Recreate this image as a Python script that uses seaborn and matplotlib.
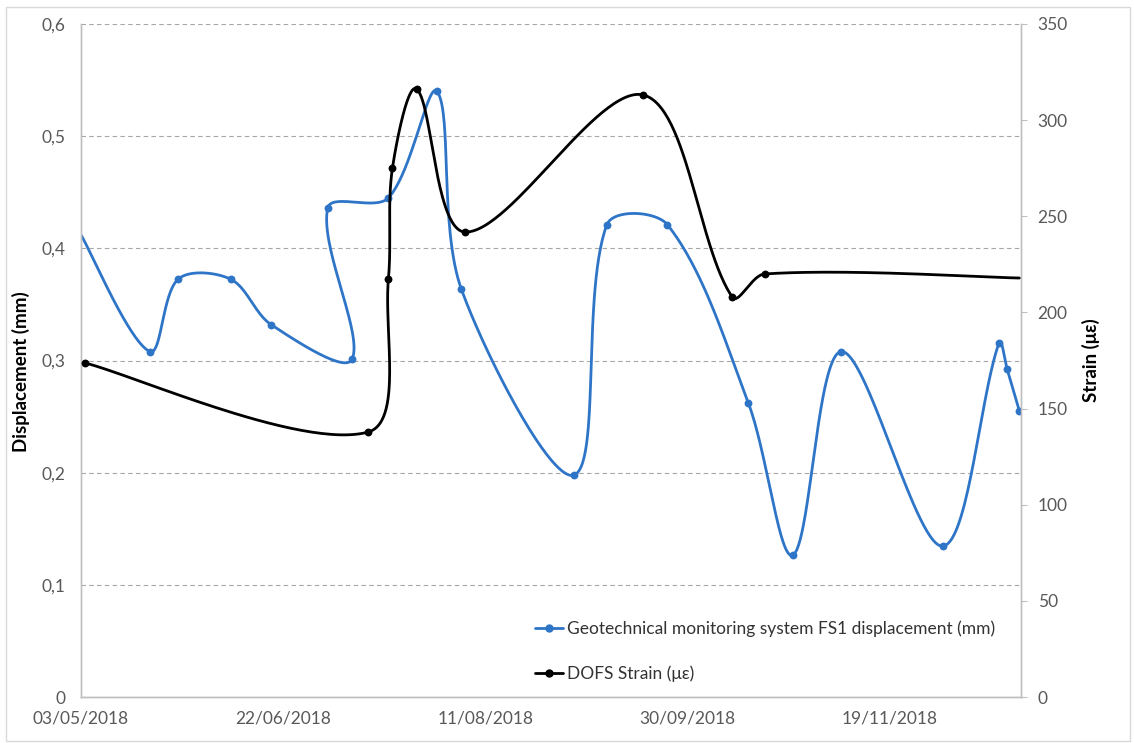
import numpy as np
import pandas as pd
import matplotlib
matplotlib.use("Agg")
import matplotlib.pyplot as plt
import matplotlib.dates as mdates
from matplotlib.lines import Line2D
from matplotlib.patches import Rectangle
import seaborn as sns

# FS1 displacement readings (mm), listed in acquisition order
disp_dates = ["2018-05-03", "2018-05-20", "2018-05-27", "2018-06-09", "2018-06-19",
              "2018-07-09", "2018-07-03", "2018-07-18", "2018-07-30", "2018-08-05",
              "2018-09-02", "2018-09-10", "2018-09-25", "2018-10-15", "2018-10-26",
              "2018-11-07", "2018-12-02", "2018-12-16", "2018-12-18", "2018-12-21"]
disp_values = [0.412, 0.308, 0.3725, 0.3725, 0.332,
               0.301, 0.436, 0.445, 0.540, 0.364,
               0.198, 0.421, 0.421, 0.262, 0.1265,
               0.308, 0.1345, 0.316, 0.292, 0.255]

# DOFS strain readings (microstrain)
strain_dates = ["2018-05-04", "2018-07-13", "2018-07-18", "2018-07-19", "2018-07-25",
                "2018-08-06", "2018-09-19", "2018-10-11", "2018-10-19", "2018-12-21"]
strain_values = [173.7, 137.8, 217.4, 275.1, 316.2,
                 241.8, 313.1, 208.0, 220.0, 217.9]

x_start, x_end = "2018-05-03", "2018-12-21"
date_ticks = ["2018-05-03", "2018-06-22", "2018-08-11", "2018-09-30", "2018-11-19"]
disp_ticks = [0, 0.1, 0.2, 0.3, 0.4, 0.5, 0.6]
disp_tick_labels = ["0", "0,1", "0,2", "0,3", "0,4", "0,5", "0,6"]
strain_ticks = [0, 50, 100, 150, 200, 250, 300, 350]

disp_label = "Geotechnical monitoring system FS1 displacement (mm)"
strain_label = "DOFS Strain (\u03bc\u03b5)"

BLUE = "#2E75C8"
BLACK = "#000000"
GRID = "#A6A6A6"
SPINE = "#BFBFBF"
TICK = "#595959"

AX_W_PX, AX_H_PX = 940.0, 673.0


def smooth_curve(x, y, xspan, yspan, steps=60):
    """Piecewise cubic Bezier through the points; tangents are scaled by the
    on-screen chord lengths of the neighbouring segments to avoid loops."""
    px = np.asarray(x, float)
    py = np.asarray(y, float)
    sx, sy = AX_W_PX / xspan, AX_H_PX / yspan
    n = len(px)
    d = np.hypot(np.diff(px) * sx, np.diff(py) * sy)
    out_x, out_y = [px[0]], [py[0]]
    t = np.linspace(0, 1, steps)[1:]
    for i in range(n - 1):
        i0, i3 = max(i - 1, 0), min(i + 2, n - 1)
        d_prev = d[i - 1] if i > 0 else d[i]
        d_next = d[i + 1] if i + 1 < n - 1 else d[i]
        k1 = (2.0 / 6.0) * d[i] / (d_prev + d[i])
        k2 = (2.0 / 6.0) * d[i] / (d[i] + d_next)
        c1x = px[i] + (px[i + 1] - px[i0]) * k1
        c1y = py[i] + (py[i + 1] - py[i0]) * k1
        c2x = px[i + 1] - (px[i3] - px[i]) * k2
        c2y = py[i + 1] - (py[i3] - py[i]) * k2
        a, b, c, e = (1 - t) ** 3, 3 * (1 - t) ** 2 * t, 3 * (1 - t) * t ** 2, t ** 3
        out_x.extend(a * px[i] + b * c1x + c * c2x + e * px[i + 1])
        out_y.extend(a * py[i] + b * c1y + c * c2y + e * py[i + 1])
    return np.array(out_x), np.array(out_y)


sns.set_theme(style="white")
plt.rcParams["font.family"] = ["Lato", "DejaVu Sans"]

disp_x = mdates.date2num(pd.to_datetime(disp_dates))
strain_x = mdates.date2num(pd.to_datetime(strain_dates))

xmin = mdates.date2num(pd.Timestamp(x_start))
xmax = mdates.date2num(pd.Timestamp(x_end)) + 0.4
disp_lim = (disp_ticks[0], disp_ticks[-1])
strain_lim = (strain_ticks[0], strain_ticks[-1])

dcx, dcy = smooth_curve(disp_x, disp_values, xmax - xmin, disp_lim[1] - disp_lim[0])
scx, scy = smooth_curve(strain_x, strain_values, xmax - xmin, strain_lim[1] - strain_lim[0])
disp_curve = pd.DataFrame({"x": dcx, "y": dcy})
strain_curve = pd.DataFrame({"x": scx, "y": scy})
# the first displacement reading and the last strain reading carry no marker
disp_pts = pd.DataFrame({"x": disp_x[1:], "y": disp_values[1:]})
strain_pts = pd.DataFrame({"x": strain_x[:-1], "y": strain_values[:-1]})

fig = plt.figure(figsize=(11.34, 7.43), dpi=100)
ax = fig.add_axes([81 / 1134, 1 - 697 / 743, AX_W_PX / 1134, AX_H_PX / 743])
ax2 = ax.twinx()

sns.lineplot(data=disp_curve, x="x", y="y", sort=False, estimator=None,
             color=BLUE, linewidth=2.0, ax=ax)
sns.scatterplot(data=disp_pts, x="x", y="y", color=BLUE, s=32,
                edgecolor=BLUE, linewidth=0, ax=ax, zorder=3)
sns.lineplot(data=strain_curve, x="x", y="y", sort=False, estimator=None,
             color=BLACK, linewidth=2.0, ax=ax2)
sns.scatterplot(data=strain_pts, x="x", y="y", color=BLACK, s=32,
                edgecolor=BLACK, linewidth=0, ax=ax2, zorder=3)

ax.set_xlim(xmin, xmax)
ax.set_ylim(*disp_lim)
ax2.set_ylim(*strain_lim)

ax.set_xticks(mdates.date2num(pd.to_datetime(date_ticks)))
ax.xaxis.set_major_formatter(mdates.DateFormatter("%d/%m/%Y"))
ax.set_yticks(disp_ticks)
ax.set_yticklabels(disp_tick_labels)
ax2.set_yticks(strain_ticks)

ax.grid(axis="y", color=GRID, linestyle=(0, (4, 3)), linewidth=0.8)
ax.grid(axis="x", visible=False)
ax2.grid(False)

ax.tick_params(axis="x", length=0, pad=10, labelsize=12.5, labelcolor=TICK)
ax.tick_params(axis="y", length=0, pad=11, labelsize=12.5, labelcolor=TICK)
ax2.tick_params(axis="y", length=4, width=0.8, color=SPINE, pad=8,
                labelsize=12.5, labelcolor=TICK, right=True)

for a in (ax, ax2):
    a.spines["top"].set_visible(False)
    for side in ("left", "bottom", "right"):
        a.spines[side].set_color(SPINE)
        a.spines[side].set_linewidth(1.0)

ax.set_xlabel("")
ax.set_ylabel("Displacement (mm)", fontsize=13.5, fontweight="bold", color="black")
ax.yaxis.set_label_coords(-0.054, 0.484)
ax2.set_ylabel("Strain (\u03bc\u03b5)", fontsize=13.5, fontweight="bold", color="black")
ax2.yaxis.set_label_coords(1.065, 0.5)

handles = [
    Line2D([], [], color=BLUE, linewidth=2.0, marker="o", markersize=5),
    Line2D([], [], color=BLACK, linewidth=2.0, marker="o", markersize=5),
]
leg = ax2.legend(handles, [disp_label, strain_label], loc="center left",
                 bbox_to_anchor=(0.483, 0.068), frameon=False, fontsize=12.5,
                 handlelength=1.6, handletextpad=0.25, labelspacing=1.68,
                 borderpad=0, borderaxespad=0)
for txt in leg.get_texts():
    txt.set_color("#333333")

# light outline around the whole chart area
fig.patches.append(Rectangle((6 / 1134, 2 / 743), 1124 / 1134, 734 / 743,
                             transform=fig.transFigure, fill=False,
                             edgecolor="#D9D9D9", linewidth=1.0))

fig.savefig("out.png", dpi=100)
